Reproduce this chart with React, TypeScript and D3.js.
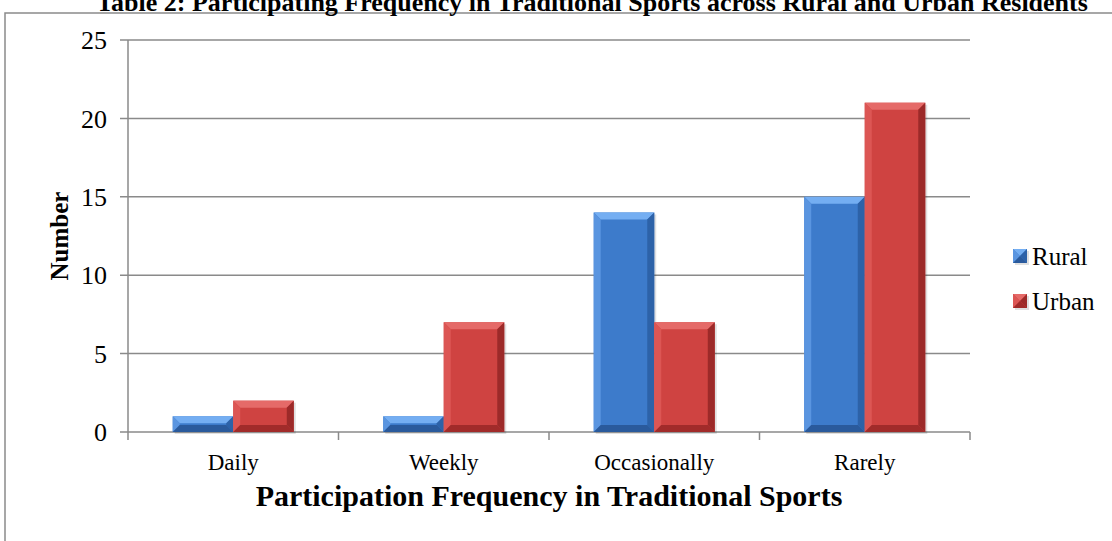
import React from "react";
import * as d3 from "d3";

const categories = ["Daily", "Weekly", "Occasionally", "Rarely"];
const seriesNames = ["Rural", "Urban"];
const rural = [1, 1, 14, 15];
const urban = [2, 7, 7, 21];
const yTicks = [0, 5, 10, 15, 20, 25];

const W = 1112;
const H = 541;
const FONT = "'Liberation Serif', 'Times New Roman', serif";

const palette: Record<string, { face: string; top: string; left: string; right: string; bottom: string }> = {
  Rural: { face: "#3d7bcb", top: "#74aef2", left: "#5a95e0", right: "#2d62a8", bottom: "#2a5a9c" },
  Urban: { face: "#cf4341", top: "#e56a68", left: "#dc5654", right: "#9c2a29", bottom: "#a12b2a" },
};

function BevelBar({ x, y, w, h, s }: { x: number; y: number; w: number; h: number; s: string }) {
  const c = palette[s];
  const b = Math.min(7, h / 2, w / 2);
  const pts = (a: number[][]) => a.map((p) => p.join(",")).join(" ");
  return (
    <g>
      <rect x={x + 2} y={y + 2} width={w} height={h} fill="#000" opacity={0.12} />
      <rect x={x} y={y} width={w} height={h} fill={c.face} />
      <polygon points={pts([[x, y], [x + w, y], [x + w - b, y + b], [x + b, y + b]])} fill={c.top} />
      <polygon points={pts([[x, y], [x + b, y + b], [x + b, y + h - b], [x, y + h]])} fill={c.left} />
      <polygon points={pts([[x + w, y], [x + w, y + h], [x + w - b, y + h - b], [x + w - b, y + b]])} fill={c.right} />
      <polygon points={pts([[x, y + h], [x + b, y + h - b], [x + w - b, y + h - b], [x + w, y + h]])} fill={c.bottom} />
    </g>
  );
}

export default function App() {
  const left = 128, right = 970, top = 40, bottom = 432;
  const y = d3.scaleLinear().domain([0, 25]).range([bottom, top]);
  const x0 = d3.scaleBand().domain(categories).range([left, right]).padding(0);
  const bw = x0.bandwidth();
  const gw = bw * 0.575;
  const x1 = d3.scaleBand().domain(seriesNames).range([0, gw]).padding(0);
  const data: Record<string, number[]> = { Rural: rural, Urban: urban };
  const grid = "#8a8a8a";

  return (
    <svg width={W} height={H} style={{ position: "absolute", left: 0, top: 0, background: "#fff" }} fontFamily={FONT}>
      <rect x={5} y={13} width={W + 20} height={H + 20} fill="none" stroke={grid} strokeWidth={1.5} />
      <text x={592} y={11} textAnchor="middle" fontSize={26} fontWeight="bold" fill="#000">
        Table 2: Participating Frequency in Traditional Sports across Rural and Urban Residents
      </text>
      {yTicks.map((t) => (
        <g key={t}>
          <line x1={left - 8} x2={right} y1={y(t)} y2={y(t)} stroke={grid} strokeWidth={1.5} />
          <text x={left - 21} y={y(t)} dy="0.35em" textAnchor="end" fontSize={26} fill="#000">
            {t}
          </text>
        </g>
      ))}
      <line x1={left} x2={left} y1={top} y2={bottom} stroke={grid} strokeWidth={1.5} />
      {[...categories.map((c) => x0(c) as number), right].map((v, i) => (
        <line key={i} x1={v} x2={v} y1={bottom} y2={bottom + 8} stroke={grid} strokeWidth={1.5} />
      ))}
      {categories.map((c, i) => (
        <g key={c}>
          {seriesNames.map((s) => {
            const v = data[s][i];
            const bx = (x0(c) as number) + (bw - gw) / 2 + (x1(s) as number);
            return <BevelBar key={s} x={bx} y={y(v)} w={x1.bandwidth()} h={bottom - y(v)} s={s} />;
          })}
          <text x={(x0(c) as number) + bw / 2} y={470} textAnchor="middle" fontSize={23} fill="#000">
            {c}
          </text>
        </g>
      ))}
      <text x={549} y={506} textAnchor="middle" fontSize={30} fontWeight="bold" fill="#000">
        Participation Frequency in Traditional Sports
      </text>
      <text transform={`translate(68,236) rotate(-90)`} textAnchor="middle" fontSize={25} fontWeight="bold" fill="#000">
        Number
      </text>
      {seriesNames.map((s, i) => (
        <g key={s}>
          <BevelBar x={1013} y={249 + i * 45} w={14} h={14} s={s} />
          <text x={1032} y={256 + i * 45} dy="0.35em" fontSize={25} fill="#000">
            {s}
          </text>
        </g>
      ))}
    </svg>
  );
}
